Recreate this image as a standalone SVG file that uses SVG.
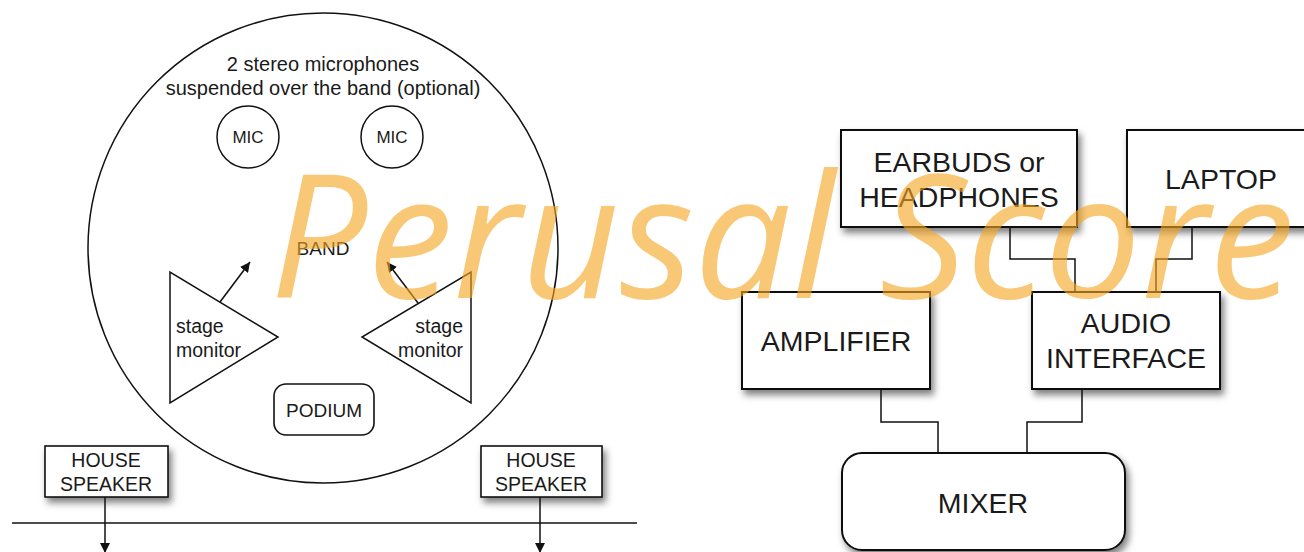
<svg xmlns="http://www.w3.org/2000/svg" width="1304" height="552" viewBox="0 0 1304 552">
<style>
.ln{fill:none;stroke:#111;stroke-width:1.5}
.bx{fill:#fff;stroke:#111;stroke-width:2}
.sb{fill:#fff;stroke:#111;stroke-width:1.6}
.t{font-family:"Liberation Sans",Arial,sans-serif;fill:#1a1a1a;text-anchor:middle}
.wm{font-family:"Open Sans",sans-serif;font-style:italic;font-size:172px;fill:#F5A623;fill-opacity:0.62}
</style>
<defs>
<filter id="sh" x="-20%" y="-20%" width="150%" height="160%">
<feDropShadow dx="3" dy="5" stdDeviation="3.5" flood-color="#000" flood-opacity="0.5"/>
</filter>
<marker id="ah" viewBox="0 0 10 10" refX="10" refY="5" markerWidth="10" markerHeight="10" markerUnits="userSpaceOnUse" orient="auto">
<path d="M0,0 L10,5 L0,10 z" fill="#111"/>
</marker>
</defs>
<rect width="1304" height="552" fill="#fff"/>

<g id="stage">
<circle cx="323" cy="248" r="235" class="ln"/>
<text class="t" x="323" y="71" font-size="20">2 stereo microphones</text>
<text class="t" x="323" y="95" font-size="20">suspended over the band (optional)</text>
</g>
<g id="mic1"><circle cx="248" cy="137" r="31" class="ln" fill="#fff"/><text class="t" x="248" y="143" font-size="17">MIC</text></g>
<g id="mic2"><circle cx="392" cy="137" r="31" class="ln" fill="#fff"/><text class="t" x="392" y="143" font-size="17">MIC</text></g>
<g id="band"><text class="t" x="323" y="255" font-size="19">BAND</text></g>
<g id="monitor-left">
<path d="M170,272 L170,403 L278,337 Z" class="ln" fill="#fff"/>
<text class="t" x="176" y="333" font-size="19.5" style="text-anchor:start">stage</text>
<text class="t" x="176" y="357" font-size="19.5" style="text-anchor:start">monitor</text>
</g>
<g id="monitor-right">
<path d="M471,272 L471,403 L362,337 Z" class="ln" fill="#fff"/>
<text class="t" x="463" y="333" font-size="19.5" style="text-anchor:end">stage</text>
<text class="t" x="463" y="357" font-size="19.5" style="text-anchor:end">monitor</text>
</g>
<g id="podium">
<rect x="274" y="384" width="100" height="51" rx="12" class="sb"/>
<text class="t" x="324" y="417" font-size="19">PODIUM</text>
</g>
<g id="speaker-left">
<rect x="45" y="446" width="123" height="51" class="sb" filter="url(#sh)"/>
<text class="t" x="106" y="467" font-size="19.5">HOUSE</text>
<text class="t" x="106" y="491" font-size="19.5">SPEAKER</text>
</g>
<g id="speaker-right">
<rect x="481" y="446" width="121" height="51" class="sb" filter="url(#sh)"/>
<text class="t" x="541" y="467" font-size="19.5">HOUSE</text>
<text class="t" x="541" y="491" font-size="19.5">SPEAKER</text>
</g>

<g id="earbuds">
<rect x="841" y="130" width="236" height="97" class="bx" filter="url(#sh)"/>
<text class="t" x="959" y="172" font-size="28.5">EARBUDS or</text>
<text class="t" x="959" y="207" font-size="28.5">HEADPHONES</text>
</g>
<g id="laptop">
<rect x="1127" y="130" width="190" height="97" class="bx" filter="url(#sh)"/>
<text class="t" x="1221" y="189" font-size="28.5">LAPTOP</text>
</g>
<g id="amplifier">
<rect x="742" y="292" width="188" height="97" class="bx" filter="url(#sh)"/>
<text class="t" x="836" y="351" font-size="28.5">AMPLIFIER</text>
</g>
<g id="audio-interface">
<rect x="1032" y="292" width="188" height="97" class="bx" filter="url(#sh)"/>
<text class="t" x="1126" y="333" font-size="28.5">AUDIO</text>
<text class="t" x="1126" y="368" font-size="28.5">INTERFACE</text>
</g>
<g id="mixer">
<rect x="842" y="453" width="283" height="97" rx="20" class="bx" filter="url(#sh)"/>
<text class="t" x="983" y="513" font-size="28.5">MIXER</text>
</g>

<g id="connectors">
<line x1="220" y1="302" x2="250" y2="262" class="ln" marker-end="url(#ah)"/>
<line x1="418" y1="303" x2="387" y2="262" class="ln" marker-end="url(#ah)"/>
<line x1="12" y1="523" x2="637" y2="523" class="ln"/>
<line x1="105" y1="497" x2="105" y2="553" class="ln" marker-end="url(#ah)"/>
<line x1="540" y1="497" x2="540" y2="553" class="ln" marker-end="url(#ah)"/>
<path d="M1010,227 V259 H1075 V292" class="ln" stroke-width="2"/>
<path d="M1192,227 V259 H1156 V292" class="ln" stroke-width="2"/>
<path d="M881,389 V422 H938 V453" class="ln" stroke-width="2"/>
<path d="M1082,389 V422 H1027 V453" class="ln" stroke-width="2"/>
</g>

<g id="watermark">
<text class="wm" x="270" y="298">Perusal Score</text>
</g>
</svg>
